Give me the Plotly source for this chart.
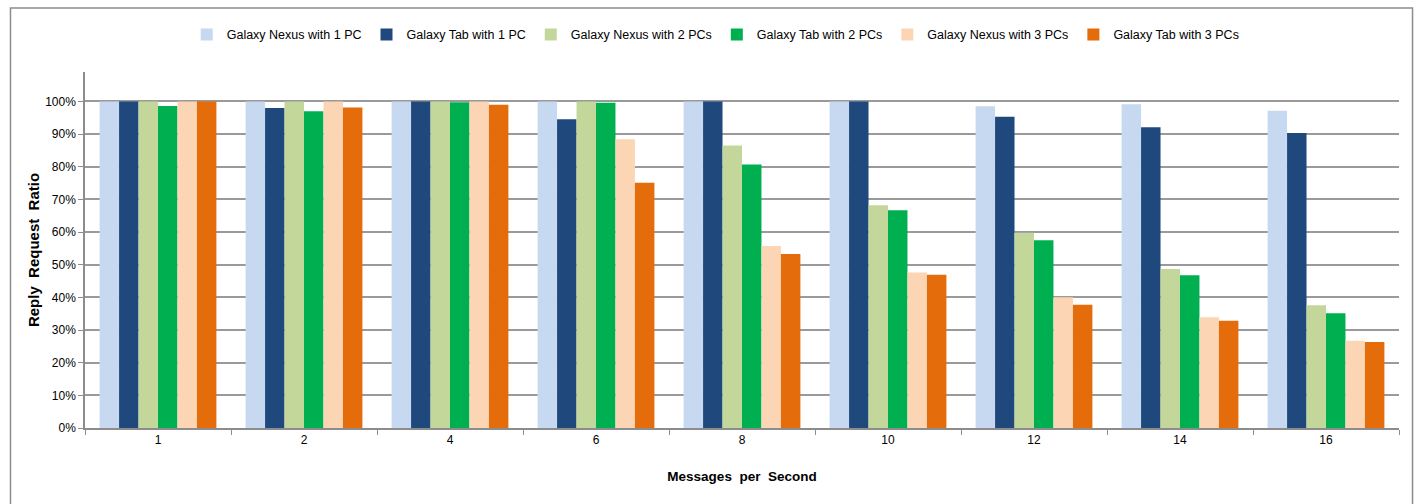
import plotly.graph_objects as go

# Messages per second (category axis)
rates = ["1", "2", "4", "6", "8", "10", "12", "14", "16"]

# Reply/request ratio per configuration, in percent
nexus_1pc = [100, 100, 100, 100, 100, 100, 98.5, 99.1, 97.1]
tab_1pc = [100, 98.0, 100, 94.5, 100, 100, 95.3, 92.1, 90.3]
nexus_2pc = [100, 100, 100, 100, 86.5, 68.2, 59.8, 48.7, 37.6]
tab_2pc = [98.6, 97.0, 99.7, 99.6, 80.7, 66.7, 57.5, 46.8, 35.1]
nexus_3pc = [100, 100, 100, 88.4, 55.7, 47.6, 40.0, 33.9, 26.7]
tab_3pc = [100, 98.1, 99.0, 75.1, 53.3, 46.9, 37.7, 32.8, 26.3]

series = [
    ("Galaxy Nexus with 1 PC", nexus_1pc, "#C6D9F1"),
    ("Galaxy Tab with 1 PC", tab_1pc, "#1F497D"),
    ("Galaxy Nexus with 2 PCs", nexus_2pc, "#C4D79B"),
    ("Galaxy Tab with 2 PCs", tab_2pc, "#00B050"),
    ("Galaxy Nexus with 3 PCs", nexus_3pc, "#FCD5B5"),
    ("Galaxy Tab with 3 PCs", tab_3pc, "#E46C0A"),
]

y_ticks = [0, 10, 20, 30, 40, 50, 60, 70, 80, 90, 100]
y_tick_labels = [f"{v}%" for v in y_ticks]

NARROW = "Liberation Sans Narrow, Arial Narrow, Liberation Sans, sans-serif"
NB = "\u00a0"

fig = go.Figure()
for name, vals, color in series:
    fig.add_trace(go.Bar(
        name=name, x=rates, y=vals,
        marker=dict(color=color, line=dict(width=0)),
    ))

fig.update_layout(
    width=1419, height=504,
    margin=dict(l=85, r=20, t=72, b=76),
    paper_bgcolor="white", plot_bgcolor="white",
    barmode="group", bargap=0.2, bargroupgap=0,
    font=dict(family=NARROW, size=12, color="#000000"),
    legend=dict(
        orientation="h", x=0.48, xanchor="center", y=1.104, yanchor="middle",
        font=dict(family=NARROW, size=12.5, color="#000000"),
        itemwidth=30, tracegroupgap=0, bgcolor="rgba(0,0,0,0)",
    ),
    xaxis=dict(
        type="category", showgrid=False,
        showline=True, linecolor="#8c8c8c", linewidth=1.5,
        ticks="outside", tickson="boundaries", ticklen=5, tickcolor="#8c8c8c",
        tickfont=dict(family=NARROW, size=12),
        title=dict(
            text=f"Messages{NB*2}per{NB*2}Second",
            font=dict(family=NARROW, size=13.5, weight="bold"),
            standoff=25,
        ),
    ),
    yaxis=dict(
        range=[0, 109], tickvals=y_ticks, ticktext=y_tick_labels,
        showgrid=True, gridcolor="#9a9a9a", gridwidth=1.5,
        showline=True, linecolor="#8c8c8c", linewidth=1.5,
        ticks="outside", ticklen=5, tickcolor="#8c8c8c",
        tickfont=dict(family=NARROW, size=12),
        zeroline=False,
        title=dict(
            text=f"Reply{NB*2}Request{NB*2}Ratio",
            font=dict(family="Liberation Sans, Arial, sans-serif", size=15, weight="bold"),
            standoff=2,
        ),
    ),
)

# Chart-area frame
fig.add_shape(
    type="rect", xref="paper", yref="paper",
    x0=-0.0567, x1=1.0103, y0=-0.25, y1=1.1798,
    line=dict(color="#8c8c8c", width=1.5), fillcolor="rgba(0,0,0,0)",
    layer="below",
)

fig.write_html("out.html")
